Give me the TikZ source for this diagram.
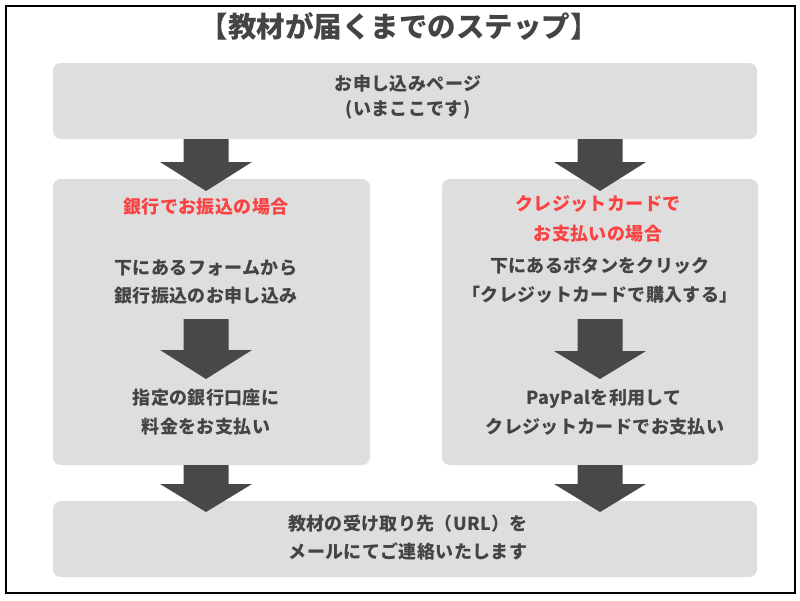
\documentclass[tikz,border=0pt]{standalone}
\usepackage{fontspec}
\setmainfont{Noto Sans CJK JP}
\newfontfamily\bodyfont[LetterSpace=2]{Noto Sans CJK JP}
\newfontfamily\titlefont{Noto Sans CJK JP}
\definecolor{txt}{HTML}{444444}
\definecolor{boxfill}{HTML}{DEDEDE}
\definecolor{arrowcol}{HTML}{484848}
\definecolor{redtxt}{HTML}{FA4242}
\tikzset{
  panel/.style={fill=boxfill, rounded corners=8pt, inner sep=0pt, draw=none},
  line/.style={text=txt, font=\bodyfont\bfseries\fontsize{18}{20}\selectfont, inner sep=0pt, text height=0.83em, text depth=0.07em, anchor=center, yshift=-1.5pt},
  redline/.style={line, text=redtxt},
}
\newcommand\blockarrow[4]{% cx, ytop, ybase, ytip
  \fill[arrowcol] (#1-22.5,#2) -- (#1+22.5,#2) -- (#1+22.5,#3) -- (#1+46,#3) -- (#1,#4) -- (#1-46,#3) -- (#1-22.5,#3) -- cycle;}
\begin{document}
\begin{tikzpicture}[x=1pt,y=-1pt]
\useasboundingbox (0,0) rectangle (800,600);
\fill[white] (0,0) rectangle (800,600);
\draw[line width=2pt, black] (6,6) rectangle (794.5,593);

\node[text=txt, font=\titlefont\bfseries\fontsize{28.5}{30}\selectfont, inner sep=0pt, text height=0.83em, text depth=0.07em] (title) at (399,34) {【教材が届くまでのステップ】};

\node[panel, minimum width=704pt, minimum height=76pt] (top) at (405,101) {};
\node[panel, minimum width=317pt, minimum height=286pt] (left) at (211.5,322) {};
\node[panel, minimum width=316pt, minimum height=286pt] (right) at (600,322) {};
\node[panel, minimum width=704pt, minimum height=76pt] (bottom) at (405,539) {};

\node[line] (t1) at (408,85) {お申し込みページ};
\node[line] (t2) at (408,110) {(いまここです)};

\node[redline] (l1) at (206,208.5) {銀行でお振込の場合};
\node[line] (l2) at (206,269) {下にあるフォームから};
\node[line] (l3) at (206,297) {銀行振込のお申し込み};
\node[line] (l4) at (206,399.5) {指定の銀行口座に};
\node[line] (l5) at (206,428) {料金をお支払い};

\node[redline] (r1) at (598,205) {クレジットカードで};
\node[redline] (r2) at (598,235) {お支払いの場合};
\node[line] (r3) at (600,267) {下にあるボタンをクリック};
\node[line] (r4) at (600,296.5) {「クレジットカードで購入する」};
\node[line] (r5) at (604,399.5) {PayPalを利用して};
\node[line] (r6) at (605,428) {クレジットカードでお支払い};

\node[line] (b1) at (408,525) {教材の受け取り先（URL）を};
\node[line] (b2) at (408,553.5) {メールにてご連絡いたします};

\blockarrow{206}{139}{162}{191}
\blockarrow{600}{139}{162}{191}
\blockarrow{206}{319}{350}{379}
\blockarrow{600}{319}{351}{379}
\blockarrow{206}{465}{484}{512}
\blockarrow{600}{465}{484}{512}
\end{tikzpicture}
\end{document}
